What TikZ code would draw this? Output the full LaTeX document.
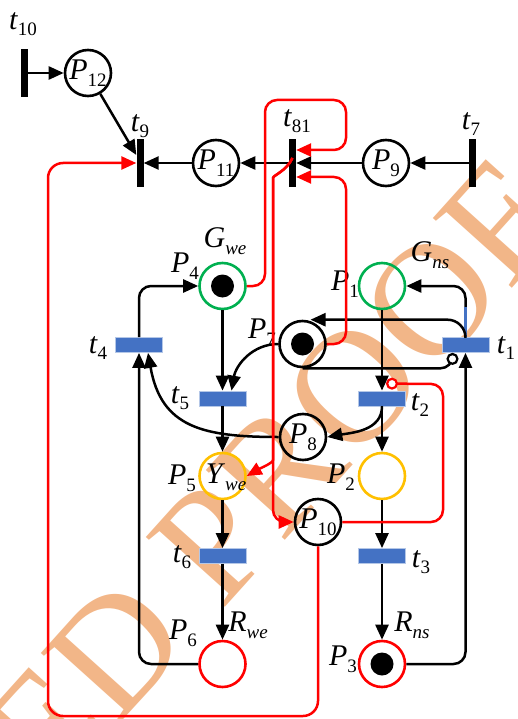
\documentclass[tikz,border=0pt]{standalone}
\usepackage{fontspec}
\setmainfont{Liberation Serif}
\usetikzlibrary{arrows.meta, positioning, calc}
\definecolor{placegreen}{RGB}{0,176,80}
\definecolor{placeyellow}{RGB}{255,192,0}
\definecolor{transblue}{RGB}{68,114,196}
\definecolor{arcred}{RGB}{255,0,0}
\definecolor{wmorange}{RGB}{242,182,136}
\newcommand{\lowsub}[1]{\raisebox{-0.22em}{\fontsize{19}{19}\selectfont #1}}
\newcommand{\pn}[2]{\textit{#1}\lowsub{#2}}

\begin{document}
\begin{tikzpicture}[
    x=1pt, y=-1pt,
    every node/.style={font=\fontsize{30}{30}\selectfont},
    place/.style={circle, draw, line width=2.6pt, minimum size=46pt, inner sep=0pt},
    token/.style={circle, fill=black, minimum size=23pt, inner sep=0pt},
    trans/.style={rectangle, fill=transblue, draw=transblue!40, line width=0.8pt, minimum width=47pt, minimum height=15pt, inner sep=0pt},
    bar/.style={rectangle, fill=black, minimum width=7pt, minimum height=48pt, inner sep=0pt},
    lbl/.style={inner sep=0pt},
    watermark/.style={font=\fontsize{161}{161}\selectfont, text=wmorange, inner sep=0pt, anchor=base west, rotate=48},
    arc/.style={-{Triangle[length=15pt,width=13pt]}, line width=2.5pt, rounded corners=12pt},
    inh/.style={-{Circle[fill=white, length=12pt, width=12pt, line width=2.2pt]}, line width=2.5pt, rounded corners=12pt},
    redarc/.style={arc, draw=arcred},
    redinh/.style={inh, draw=arcred},
    bluepart/.style={line width=2.5pt, draw=transblue}
]
\useasboundingbox (0,0) rectangle (518,719);

% watermark letters behind the net
\node[watermark] (wmE) at (51,801) {E};
\node[watermark] (wmD) at (116.8,727.9) {D};
\node[watermark] (wmP) at (221.5,611.6) {P};
\node[watermark] (wmR) at (281.4,545.1) {R};
\node[watermark] (wmO) at (353.3,465.3) {O};
\node[watermark] (wmOO) at (431.1,378.9) {O};
\node[watermark] (wmF) at (508.8,292.5) {F};

% places
\node[place] (P12) at (88,73) {\pn{P}{12}};
\node[place] (P11) at (216,163) {\pn{P}{11}};
\node[place] (P9) at (386,163) {\pn{P}{9}};
\node[place, draw=placegreen] (P4) at (222.5,286) {};
\node[place, draw=placegreen] (P1) at (382,286) {};
\node[place] (P7) at (302.5,344) {};
\node[place] (P8) at (303,437) {\pn{P}{8}};
\node[place, draw=placeyellow] (P5) at (222.5,476) {};
\node[place, draw=placeyellow] (P2) at (382,476) {};
\node[place] (P10) at (318,522) {\pn{P}{10}};
\node[place, draw=arcred] (P6) at (222.5,664) {};
\node[place, draw=arcred] (P3) at (382,664) {};
\node[token] (P4tok) at (P4) {};
\node[token] (P7tok) at (P7) {};
\node[token] (P3tok) at (P3) {};

% transitions
\node[bar] (t10) at (24,73) {};
\node[bar] (t9) at (140,163) {};
\node[bar] (t81) at (292.5,163) {};
\node[bar] (t7) at (472.5,163) {};
\node[trans] (t4) at (139,345) {};
\node[trans] (t5) at (222.5,398.5) {};
\node[trans] (t2) at (382,398.5) {};
\node[trans] (t1) at (465.5,345) {};
\node[trans] (t6) at (222.5,556) {};
\node[trans] (t3) at (382,556) {};

% labels
\node[lbl] (t10l) at (23,24) {\pn{t}{10}};
\node[lbl] (t9l) at (140,126) {\pn{t}{9}};
\node[lbl] (t81l) at (297,121) {\pn{t}{81}};
\node[lbl] (t7l) at (471,124) {\pn{t}{7}};
\node[lbl] (t4l) at (98,348) {\pn{t}{4}};
\node[lbl] (t5l) at (180,398) {\pn{t}{5}};
\node[lbl] (t6l) at (182,557) {\pn{t}{6}};
\node[lbl] (t1l) at (506,348) {\pn{t}{1}};
\node[lbl] (t2l) at (420,405) {\pn{t}{2}};
\node[lbl] (t3l) at (421,562) {\pn{t}{3}};
\node[lbl] (Gwe) at (225,241) {\pn{G}{\textit{we}}};
\node[lbl] (Gns) at (430,255) {\pn{G}{\textit{ns}}};
\node[lbl] (P4l) at (185,266) {\pn{P}{4}};
\node[lbl] (P1l) at (345,284) {\pn{P}{1}};
\node[lbl] (P7l) at (262,332) {\pn{P}{7}};
\node[lbl] (P5l) at (182,478) {\pn{P}{5}};
\node[lbl] (Ywe) at (226,477) {\pn{Y}{\textit{we}}};
\node[lbl] (P2l) at (341,477) {\pn{P}{2}};
\node[lbl] (P6l) at (183,633) {\pn{P}{6}};
\node[lbl] (P3l) at (343,659) {\pn{P}{3}};
\node[lbl] (Rwe) at (248,625) {\pn{R}{\textit{we}}};
\node[lbl] (Rns) at (412,625) {\pn{R}{\textit{ns}}};

% black arcs
\draw[arc] (t10) -- (P12);
\draw[arc] (P12) -- ([yshift=8pt]t9.west);
\draw[arc] (P11) -- (t9);
\draw[arc] (t81) -- (P11);
\draw[arc] (P9) -- (t81);
\draw[arc] (t7) -- (P9);
\draw[arc] (t4) |- (P4);
\draw[arc] (P4) -- (t5);
\draw[arc] (P7.west) to[out=180, in=80] ([xshift=9pt]t5.north);
\draw[arc] (t5) -- (P5);
\draw[arc] (P8.west) to[out=180, in=-80, looseness=1.25] ([xshift=9pt]t4.south);
\draw[arc] (P6) -| (t4);
\draw[arc] (P1) -- (t2);
\draw[arc] (t2.south) to[out=-90, in=10] (P8.east);
\draw[arc] (t2) -- (P2);
\draw[arc] (P2) -- (t3);
\draw[arc] (t3) -- (P3);
\draw[arc] (P5) -- (t6);
\draw[arc] (t6) -- (P6);
\draw[arc] (P3) -| (t1);
\draw[arc] (t1) |- (P1);
\coordinate (tblue) at (465.5,307);
\draw[bluepart] (t1.north) -- (tblue);
\draw[arc, rounded corners=18pt] (t1.north) |- ([xshift=8pt]P7.north);
\draw[inh] (P7.south) -| ([xshift=-13pt]t1.south);

% red arcs
\coordinate (r1a) at (265,100);
\coordinate (r1b) at (346,150);
\draw[redarc] (P4.east) -| (r1a) -| (r1b) -- ([yshift=13pt]t81.east);
\coordinate (r2a) at (346,177);
\draw[redarc] (P7.east) -| (r2a) -- ([yshift=-14pt]t81.east);
\coordinate (r3a) at (273,190);
\coordinate (r3b) at (273,448);
\draw[redarc] ([yshift=5pt]t81.center) to[out=-115, in=90] (r3a) |- (P10.west);
\draw[redarc] ([yshift=5pt]t81.center) to[out=-115, in=90] (r3a) -- (r3b) to[out=-90, in=30] (P5.east);
\coordinate (r4a) at (443,384);
\draw[redinh] (P10.east) -| (r4a) -- ([xshift=4pt,yshift=7pt]t2.north);
\coordinate (r5a) at (48,716);
\draw[redarc, rounded corners=15pt] (P10.south) |- (r5a) |- (t9.west);
\end{tikzpicture}
\end{document}
